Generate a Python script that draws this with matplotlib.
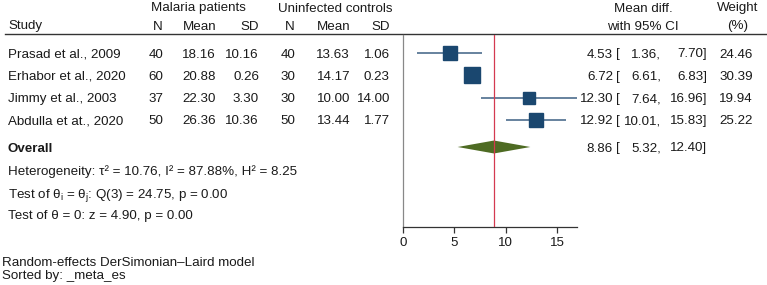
import matplotlib
matplotlib.use("Agg")
import matplotlib.pyplot as plt
import numpy as np

plt.rcParams['font.family'] = ['Liberation Sans', 'DejaVu Sans']
plt.rcParams['mathtext.fontset'] = 'custom'
plt.rcParams['mathtext.rm'] = 'Liberation Sans'
plt.rcParams['mathtext.it'] = 'Liberation Sans:italic'

# data
studies = ["Prasad et al., 2009", "Erhabor et al., 2020", "Jimmy et al., 2003", "Abdulla et at., 2020"]
n_mal = [40, 60, 37, 50]
mean_mal = [18.16, 20.88, 22.30, 26.36]
sd_mal = [10.16, 0.26, 3.30, 10.36]
n_ctl = [40, 30, 30, 50]
mean_ctl = [13.63, 14.17, 10.00, 13.44]
sd_ctl = [1.06, 0.23, 14.00, 1.77]
md = [4.53, 6.72, 12.30, 12.92]
ci_lo = [1.36, 6.61, 7.64, 10.01]
ci_hi = [7.70, 6.83, 16.96, 15.83]
weight = [24.46, 30.39, 19.94, 25.22]
overall = [8.86, 5.32, 12.40]
xticks = [0, 5, 10, 15]

W, H = 767, 285
fig = plt.figure(figsize=(W / 100, H / 100), dpi=100)

# background axes in pixel units for the table text
bg = fig.add_axes([0, 0, 1, 1])
bg.set_xlim(0, W)
bg.set_ylim(H, 0)
bg.axis('off')

row0, step = 53, 22.3
def ry(i):
    return row0 + step * i

fs = 9.6
txt = dict(fontsize=fs, va='center_baseline', color='#1a1a1a')

# headers
bg.text(198, 7, "Malaria patients", ha='center', **txt)
bg.text(335, 7, "Uninfected controls", ha='center', **txt)
bg.text(643, 7, "Mean diff.", ha='center', **txt)
bg.text(738, 7, "Weight", ha='center', **txt)
bg.text(8, 25, "Study", ha='left', **txt)
for x, s in [(163, "N"), (216, "Mean"), (259, "SD"), (295, "N"), (350, "Mean"), (390, "SD")]:
    bg.text(x, 25, s, ha='right', **txt)
bg.text(643, 25, "with 95% CI", ha='center', **txt)
bg.text(738, 25, "(%)", ha='center', **txt)
bg.plot([5, 766], [33.5, 33.5], color='#333333', lw=1.0)

for i, s in enumerate(studies):
    y = ry(i)
    bg.text(8, y, s, ha='left', **txt)
    bg.text(163, y, f"{n_mal[i]}", ha='right', **txt)
    bg.text(216, y, f"{mean_mal[i]:.2f}", ha='right', **txt)
    bg.text(259, y, f"{sd_mal[i]:.2f}", ha='right', **txt)
    bg.text(295, y, f"{n_ctl[i]}", ha='right', **txt)
    bg.text(350, y, f"{mean_ctl[i]:.2f}", ha='right', **txt)
    bg.text(390, y, f"{sd_ctl[i]:.2f}", ha='right', **txt)
    bg.text(613, y, f"{md[i]:.2f}", ha='right', **txt)
    bg.text(616, y, "[", ha='left', **txt)
    bg.text(661, y, f"{ci_lo[i]:.2f},", ha='right', **txt)
    bg.text(707, y, f"{ci_hi[i]:.2f}]", ha='right', **txt)
    bg.text(753, y, f"{weight[i]:.2f}", ha='right', **txt)

y_ov = 147
bg.text(8, y_ov, "Overall", ha='left', fontweight='bold', **txt)
bg.text(613, y_ov, f"{overall[0]:.2f}", ha='right', **txt)
bg.text(616, y_ov, "[", ha='left', **txt)
bg.text(661, y_ov, f"{overall[1]:.2f},", ha='right', **txt)
bg.text(707, y_ov, f"{overall[2]:.2f}]", ha='right', **txt)

bg.text(8, 170, "Heterogeneity: τ² = 10.76, I² = 87.88%, H² = 8.25", ha='left', **txt)
bg.text(8, 192, r"Test of θ$_\mathregular{i}$ = θ$_\mathregular{j}$: Q(3) = 24.75, p = 0.00", ha='left', **txt)
bg.text(8, 215, "Test of θ = 0: z = 4.90, p = 0.00", ha='left', **txt)
bg.text(2, 262, "Random-effects DerSimonian–Laird model", ha='left', **txt)
bg.text(2, 275, "Sorted by: _meta_es", ha='left', **txt)

# forest axes
x0_px, ppu = 403, 10.27
top_px, bot_px = 35, 227
xmax = max(ci_hi)
ax = fig.add_axes([x0_px / W, (H - bot_px) / H, xmax * ppu / W, (bot_px - top_px) / H])
ax.set_xlim(0, xmax)
ax.set_ylim((bot_px - row0) / step, (top_px - row0) / step)
ax.patch.set_alpha(0)
for sp in ['top', 'right']:
    ax.spines[sp].set_visible(False)
ax.spines['left'].set_color('#888888')
ax.spines['left'].set_linewidth(0.9)
ax.spines['bottom'].set_color('#333333')
ax.spines['bottom'].set_linewidth(0.9)
ax.set_yticks([])
ax.set_xticks(xticks)
ax.tick_params(axis='x', length=4, width=0.9, color='#333333', labelsize=fs, pad=3,
               labelcolor='#1a1a1a')

rows = np.arange(len(studies))
ax.hlines(rows, ci_lo, ci_hi, color='#4d6d8e', lw=1.2, zorder=2)
for i in rows:
    ax.plot(md[i], i, marker='s', ms=2.04 * np.sqrt(weight[i]), color='#1a476f',
            mec='#1a476f', zorder=3)

ov_row = (y_ov - row0) / step
hh = 0.29
ax.fill([overall[1], overall[0], overall[2], overall[0]],
        [ov_row, ov_row - hh, ov_row, ov_row + hh], color='#4e6b23', zorder=2, lw=0)
ax.axvline(overall[0], color='#d43a50', lw=0.9, zorder=4)

fig.savefig("out.png", dpi=100)
